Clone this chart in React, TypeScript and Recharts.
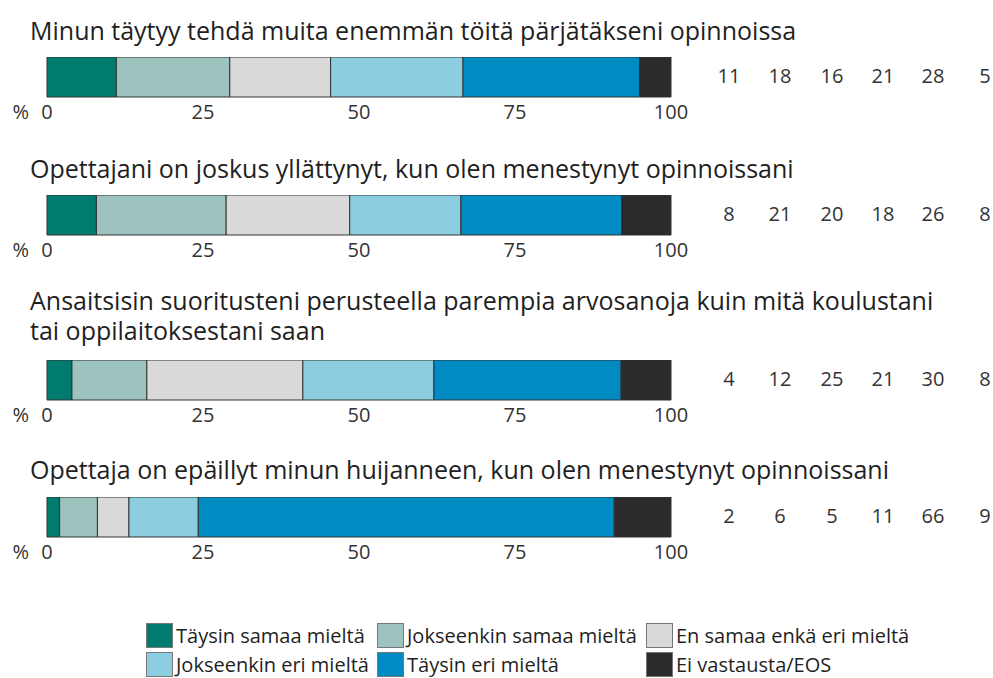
import { BarChart, Bar, XAxis, YAxis, Label } from "recharts";

const questions = [
	"Minun täytyy tehdä muita enemmän töitä pärjätäkseni opinnoissa",
	"Opettajani on joskus yllättynyt, kun olen menestynyt opinnoissani",
	"Ansaitsisin suoritusteni perusteella parempia arvosanoja kuin mitä koulustani\ntai oppilaitoksestani saan",
	"Opettaja on epäillyt minun huijanneen, kun olen menestynyt opinnoissani",
];

const taysinSamaa = [11, 8, 4, 2];
const jokseenkinSamaa = [18, 21, 12, 6];
const enSamaaEnkaEri = [16, 20, 25, 5];
const jokseenkinEri = [21, 18, 21, 11];
const taysinEri = [28, 26, 30, 66];
const eiVastausta = [5, 8, 8, 9];

const ticks = [0, 25, 50, 75, 100];

const seriesNames = [
	"Täysin samaa mieltä",
	"Jokseenkin samaa mieltä",
	"En samaa enkä eri mieltä",
	"Jokseenkin eri mieltä",
	"Täysin eri mieltä",
	"Ei vastausta/EOS",
];
const seriesValues = [taysinSamaa, jokseenkinSamaa, enSamaaEnkaEri, jokseenkinEri, taysinEri, eiVastausta];
const colors = ["#007b6e", "#9cc3bd", "#d9d9d9", "#8dcde0", "#008bc2", "#2b2b2b"];

// layout of each block: title top, bar top
const titleTops = [15, 153, 285, 454];
const barTops = [57, 195, 360, 497];
const valueCols = [729, 780, 832, 883, 933, 985];

const FONT = "'Open Sans', 'Noto Sans', sans-serif";

function QuestionBar({ idx }: { idx: number }) {
	const row: Record<string, number | string> = { name: "q" + idx };
	seriesValues.forEach((vals, i) => (row["s" + i] = vals[idx]));

	return (
		<BarChart width={700}
		          height={70}
		          data={[row]}
		          layout="vertical"
		          stackOffset="expand"
		          barCategoryGap={0}
		          margin={{ top: 0, right: 29, left: 47, bottom: 0 }}>
			<XAxis type="number"
			       domain={[0, 1]}
			       ticks={ticks.map((t) => t / 100)}
			       tickFormatter={(v) => String(Math.round(v * 100))}
			       tick={{ fontSize: 20, fill: "#333", fontFamily: FONT }}
			       axisLine={false}
			       tickLine={false}
			       height={30}
			       interval={0}>
				<Label value="%"
				       position="left"
				       offset={18}
				       style={{ fontSize: 20, fill: "#333", fontFamily: FONT }} />
			</XAxis>
			<YAxis type="category" dataKey="name" hide />
			{seriesNames.map((n, i) => (
				<Bar key={n}
				     dataKey={"s" + i}
				     name={n}
				     stackId="a"
				     fill={colors[i]}
				     stroke="#333"
				     strokeWidth={1}
				     isAnimationActive={false} />
			))}
		</BarChart>
	);
}

export default function App() {
	return (
		<div style={{ position: "fixed", left: 0, top: 0, width: 993, height: 678, background: "#fff", fontFamily: FONT, color: "#1f1f1f", overflow: "hidden" }}>
			{questions.map((q, idx) => (
				<div key={idx}>
					<div style={{ position: "absolute", left: 30, top: titleTops[idx], fontSize: 25, lineHeight: "30px", whiteSpace: "pre" }}>
						{q}
					</div>
					<div style={{ position: "absolute", left: 0, top: barTops[idx] }}>
						<QuestionBar idx={idx} />
					</div>
					{seriesValues.map((vals, i) => (
						<div key={i}
						     style={{ position: "absolute", left: valueCols[i] - 30, width: 60, textAlign: "center", top: barTops[idx] + 5, fontSize: 20, lineHeight: "28px", color: "#333" }}>
							{vals[idx]}
						</div>
					))}
				</div>
			))}
			<div style={{ position: "absolute", left: 146, top: 623, display: "grid", gridTemplateColumns: "231px 269px auto", rowGap: 4, fontSize: 20, lineHeight: "25px" }}>
				{seriesNames.map((n, i) => (
					<div key={n} style={{ display: "flex", alignItems: "center" }}>
						<span style={{ display: "inline-block", width: 25, height: 23, background: colors[i], border: "1.5px solid #777", marginRight: 3, flexShrink: 0 }} />
						<span style={{ whiteSpace: "nowrap" }}>{n}</span>
					</div>
				))}
			</div>
		</div>
	);
}
